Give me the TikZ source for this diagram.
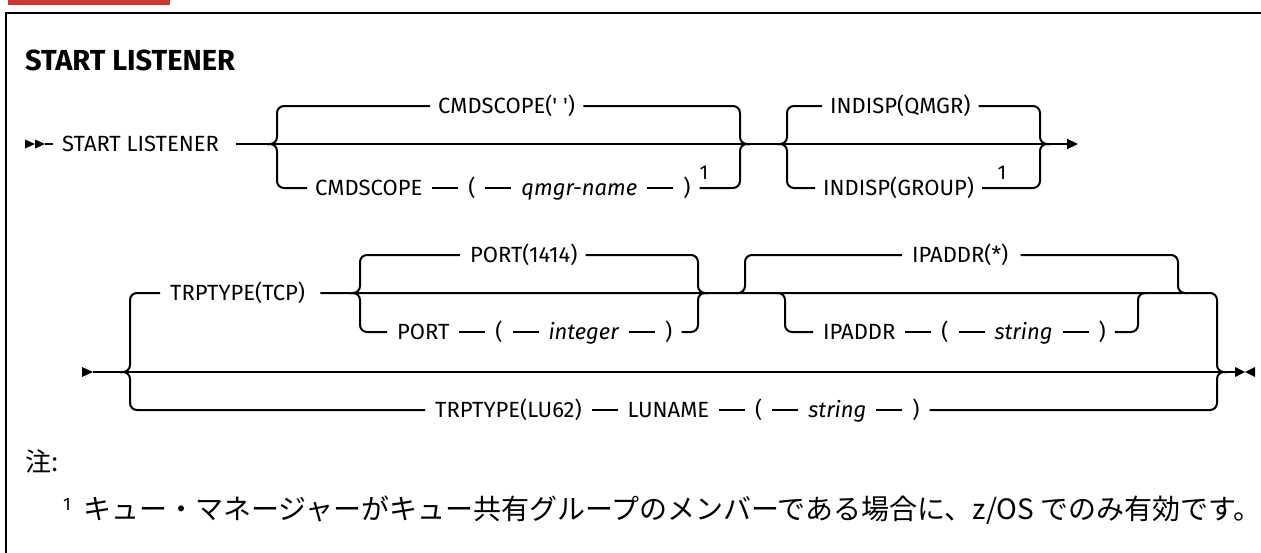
\documentclass[tikz,border=0pt]{standalone}
\usepackage{fontspec}
\usepackage{tikz}
\usetikzlibrary{arrows.meta}
\newfontfamily\diagfont{Fira Sans}[Ligatures=TeXOff]
\newfontfamily\jpfont{Noto Sans CJK JP}
\newcommand\seg{\hspace{10pt}\rule[6.6pt]{26pt}{2pt}\hspace{10pt}}
\definecolor{tabred}{RGB}{200,56,52}

\begin{document}
\begin{tikzpicture}[x=1pt,y=-1pt,
  kw/.style={anchor=west,inner sep=0pt,text height=15.2pt,text depth=0pt,font=\diagfont\fontsize{22}{26}\selectfont},
  fn/.style={inner sep=0pt,font=\diagfont\fontsize{20}{24}\selectfont},
  jp/.style={anchor=west,inner sep=0pt,font=\jpfont\fontsize{28}{32}\selectfont},
  rail/.style={line width=2pt,rounded corners=7pt}]
\useasboundingbox (0,0) rectangle (1261,552);
\fill[tabred] (8,0) rectangle (170,5);
\draw[line width=2.5pt] (6,560) -- (6,13) -- (1270,13);

\node[kw,font=\diagfont\bfseries\fontsize{29}{34}\selectfont,text height=20pt] (title) at (25,60) {START LISTENER};

\coordinate (go1) at (25,144);
\coordinate (j1) at (277,144);
\coordinate (m1) at (740,144);
\coordinate (j2) at (787,144);
\coordinate (m2) at (1040,144);
\coordinate (stop1) at (1078,144);
\node[kw] (start) at (62,144) {START LISTENER};
\node[kw] (cmdq) at (438,106) {CMDSCOPE(' ')};
\node[kw] (cmdn) at (315,188) {CMDSCOPE\seg(\seg\textit{qmgr-name}\seg)};
\node[kw] (indq) at (830,106) {INDISP(QMGR)};
\node[kw] (indg) at (823,188) {INDISP(GROUP)};
\node[fn] (fn1) at (704,173) {1};
\node[fn] (fn2) at (1002,173) {1};

\fill ([yshift=4.5pt]go1) -- ++(10,4.5) -- ++(-10,4.5) -- cycle;
\fill ([xshift=10pt,yshift=4.5pt]go1) -- ++(10,4.5) -- ++(-10,4.5) -- cycle;
\draw[rail] ([xshift=20pt]go1) -- ([xshift=-9pt]start.west);
\draw[rail,-{Triangle[length=11pt,width=10pt]}] ([xshift=17pt]start.east) -- (stop1);
\draw[rail] ([xshift=-10pt]j1) -| (j1 |- cmdq.west) -- ([xshift=-8pt]cmdq.west);
\draw[rail] ([xshift=8pt]cmdq.east) -| (m1) -- ([xshift=10pt]m1);
\draw[rail] ([xshift=-10pt]j1) -| (j1 |- cmdn.west) -- ([xshift=-8pt]cmdn.west);
\draw[rail] ([xshift=9pt]cmdn.east) -| (m1) -- ([xshift=10pt]m1);
\draw[rail] ([xshift=-10pt]j2) -| (j2 |- indq.west) -- ([xshift=-8pt]indq.west);
\draw[rail] ([xshift=8pt]indq.east) -| (m2) -- ([xshift=10pt]m2);
\draw[rail] ([xshift=-10pt]j2) -| (j2 |- indg.west) -- ([xshift=-8pt]indg.west);
\draw[rail] ([xshift=8pt]indg.east) -| (m2) -- ([xshift=10pt]m2);

\coordinate (go2) at (82,372);
\coordinate (j3) at (130,372);
\coordinate (m3) at (1217,372);
\coordinate (stop2) at (1235,372);
\coordinate (j4) at (360,293);
\coordinate (m4) at (698,293);
\coordinate (j5) at (745,293);
\coordinate (j6) at (785,293);
\coordinate (m6) at (1138,293);
\coordinate (m5) at (1178,293);
\node[kw] (tcp) at (170,293) {TRPTYPE(TCP)};
\node[kw] (port) at (470,255) {PORT(1414)};
\node[kw] (portn) at (397,332) {PORT\seg(\seg\textit{integer}\seg)};
\node[kw] (ipall) at (912,255) {IPADDR(*)};
\node[kw] (ipstr) at (823,332) {IPADDR\seg(\seg\textit{string}\seg)};
\node[kw] (lu) at (435,410) {TRPTYPE(LU62)\seg LUNAME\seg(\seg\textit{string}\seg)};

\fill ([yshift=5pt]go2) -- ++(11,5) -- ++(-11,5) -- cycle;
\draw[rail] ([xshift=11pt]go2) -- (stop2);
\fill ([yshift=5pt]stop2) -- ++(10,5) -- ++(-10,5) -- cycle;
\fill ([xshift=20pt,yshift=5pt]stop2) -- ++(-10,5) -- ++(10,5) -- cycle;
\draw[rail] ([xshift=-10pt]j3) -| (j3 |- tcp.west) -- ([xshift=-10pt]tcp.west);
\draw[rail] ([xshift=15pt]tcp.east) -| (m3) -- ([xshift=10pt]m3);
\draw[rail] ([xshift=-10pt]j3) -| (j3 |- lu.west) -- ([xshift=-10pt]lu.west);
\draw[rail] ([xshift=10pt]lu.east) -| (m3) -- ([xshift=10pt]m3);
\draw[rail] ([xshift=-10pt]j4) -| (j4 |- port.west) -- ([xshift=-10pt]port.west);
\draw[rail] ([xshift=8pt]port.east) -| (m4) -- ([xshift=10pt]m4);
\draw[rail] ([xshift=-10pt]j4) -| (j4 |- portn.west) -- ([xshift=-10pt]portn.west);
\draw[rail] ([xshift=9pt]portn.east) -| (m4) -- ([xshift=10pt]m4);
\draw[rail] ([xshift=-10pt]j5) -| (j5 |- ipall.west) -- ([xshift=-10pt]ipall.west);
\draw[rail] ([xshift=12pt]ipall.east) -| (m5) -- ([xshift=10pt]m5);
\draw[rail] ([xshift=-10pt]j6) -| (j6 |- ipstr.west) -- ([xshift=-10pt]ipstr.west);
\draw[rail] ([xshift=9pt]ipstr.east) -| (m6) -- ([xshift=10pt]m6);

\node[jp,font=\jpfont\fontsize{26}{30}\selectfont] (notehd) at (25,461) {注:};
\node[fn,anchor=west,font=\diagfont\fontsize{18}{20}\selectfont] (fn3) at (63,504) {1};
\node[jp] (note) at (83,510) {キュー・マネージャーがキュー共有グループのメンバーである場合に、z/OS でのみ有効です。};
\end{tikzpicture}
\end{document}
